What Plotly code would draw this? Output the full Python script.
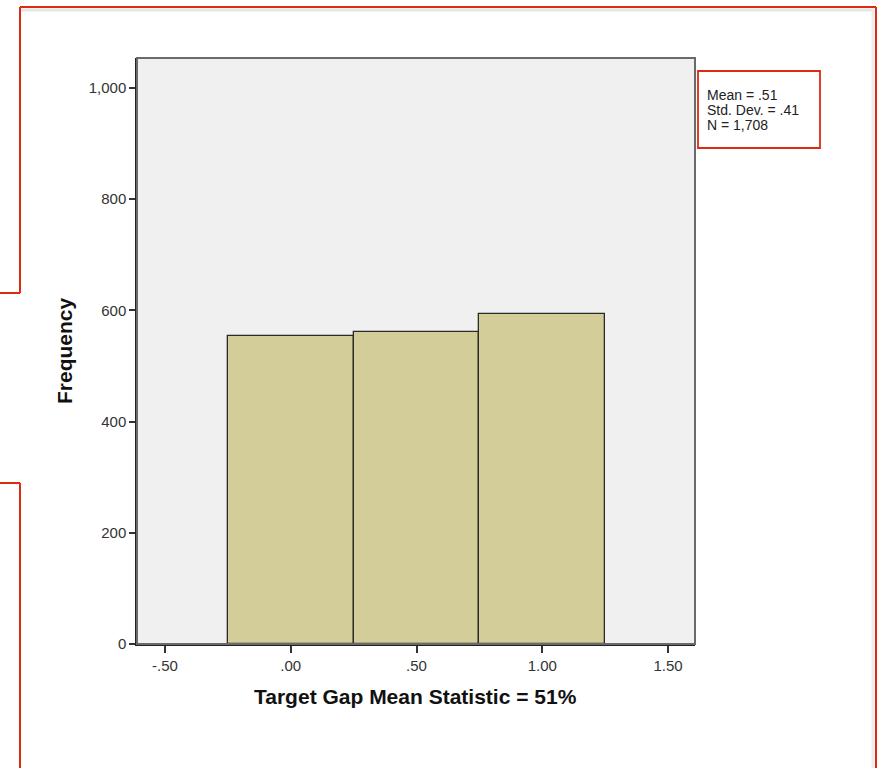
import plotly.graph_objects as go

# ---- data ----
bin_centers = [0.0, 0.5, 1.0]
frequencies = [554, 561, 593]
x_tick_vals = [-0.5, 0.0, 0.5, 1.0, 1.5]
x_tick_text = ["-.50", ".00", ".50", "1.00", "1.50"]
y_tick_vals = [0, 200, 400, 600, 800, 1000]
y_tick_text = ["0", "200", "400", "600", "800", "1,000"]
stats_lines = ["Mean = .51", "Std. Dev. = .41", "N = 1,708"]
x_title = "Target Gap Mean Statistic = 51%"
y_title = "Frequency"

W, H = 877, 768
L, R, T, B = 137, 695, 58, 644

def px(x):
    return (x - L) / (R - L)

def py(y):
    return (B - y) / (B - T)

fig = go.Figure()
fig.add_trace(go.Bar(
    x=bin_centers, y=frequencies, width=0.5,
    marker=dict(color="#D3CE99", line=dict(color="#2a2a2a", width=1.3)),
    hoverinfo="skip",
))

font_family = "Liberation Sans, Arial, sans-serif"
red = "#DD2A10"

shapes = []
shapes.append(dict(type="rect", xref="paper", yref="paper", x0=0, x1=1, y0=0, y1=1,
                   line=dict(color="#6a6a6a", width=2), layer="above"))

def seg(x0, y0, x1, y1, color=red, w=2):
    shapes.append(dict(type="line", xref="paper", yref="paper",
                       x0=px(x0), y0=py(y0), x1=px(x1), y1=py(y1),
                       line=dict(color=color, width=w)))

seg(21, 10, 874, 10, "#e6e6e6", 3)
seg(873, 10, 873, 768, "#ececec", 3)
seg(20, 7, 876, 7)
seg(876, 7, 876, 768)
seg(20, 7, 20, 293)
seg(0, 293, 20, 293)
seg(20, 483, 20, 768)
seg(0, 483, 20, 483)
shapes.append(dict(type="rect", xref="paper", yref="paper",
                   x0=px(698), x1=px(820), y0=py(71), y1=py(148),
                   line=dict(color=red, width=1.8), fillcolor="white"))

annotations = []
for i, line in enumerate(stats_lines):
    annotations.append(dict(text=line, xref="paper", yref="paper",
                            x=px(705), y=py(95 + 15 * i), xanchor="left", yanchor="middle",
                            showarrow=False, font=dict(family=font_family, size=14, color="#222")))
annotations.append(dict(text="<b>" + x_title + "</b>", xref="paper", yref="paper",
                        x=px(415), y=py(697), xanchor="center", yanchor="middle",
                        showarrow=False, font=dict(family=font_family, size=21, color="#111")))
annotations.append(dict(text="<b>" + y_title + "</b>", xref="paper", yref="paper",
                        x=px(64), y=py(350), xanchor="center", yanchor="middle", textangle=-90,
                        showarrow=False, font=dict(family=font_family, size=21, color="#111")))

fig.update_layout(
    width=W, height=H,
    margin=dict(l=L, r=W - R, t=T, b=H - B, pad=0),
    paper_bgcolor="white", plot_bgcolor="#F0F0F0",
    showlegend=False, bargap=0,
    shapes=shapes, annotations=annotations,
    font=dict(family=font_family, size=15, color="#222"),
)
fig.update_xaxes(range=[-0.611, 1.607], tickvals=x_tick_vals, ticktext=x_tick_text,
                 ticks="outside", ticklen=7, tickwidth=1.5, tickcolor="#333",
                 showgrid=False, zeroline=False, showline=True, linecolor="#222", linewidth=1.5,
                 tickfont=dict(family=font_family, size=15, color="#333"), fixedrange=True)
fig.update_yaxes(range=[0, 1054], tickvals=y_tick_vals, ticktext=y_tick_text,
                 ticks="outside", ticklen=6, tickwidth=1.5, tickcolor="#333",
                 showgrid=False, zeroline=False, showline=True, linecolor="#222", linewidth=1.5,
                 tickfont=dict(family=font_family, size=15, color="#333"), fixedrange=True)

fig.write_html("out.html", config={"displayModeBar": False},
               post_script="document.body.style.margin='0px';document.body.style.overflow='hidden';")
